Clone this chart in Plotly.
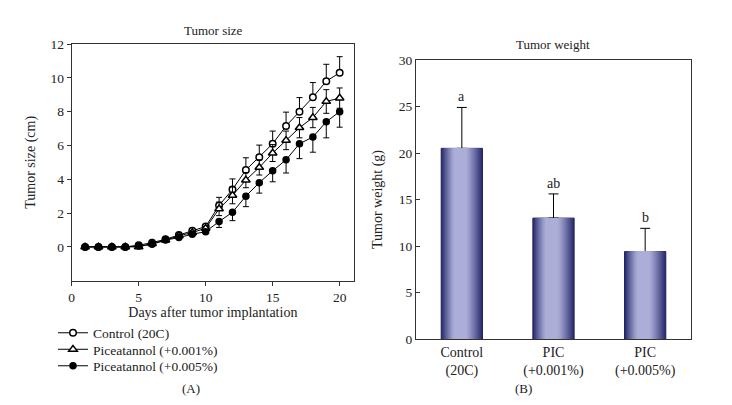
import plotly.graph_objects as go

# ---------------- data ----------------
days = list(range(1, 21))
control = [0, 0, 0, 0, 0.1, 0.25, 0.45, 0.7, 0.95, 1.2, 2.45, 3.4, 4.55, 5.3, 6.1, 7.15, 8.0, 8.85, 9.8, 10.3]
control_err = [0, 0, 0, 0, 0.05, 0.05, 0.08, 0.1, 0.1, 0.12, 0.48, 0.62, 0.72, 0.72, 0.75, 0.82, 0.83, 0.87, 1.0, 0.95]
pic1 = [0, 0, 0, 0, 0, 0.2, 0.4, 0.65, 0.85, 1.1, 2.25, 3.05, 3.95, 4.7, 5.55, 6.3, 7.05, 7.65, 8.6, 8.8]
pic1_err = [0, 0, 0, 0, 0, 0.05, 0.05, 0.08, 0.1, 0.1, 0.4, 0.5, 0.45, 0.45, 0.5, 0.55, 0.6, 0.6, 0.7, 0.6]
pic5 = [0, 0, 0, 0, 0.05, 0.15, 0.4, 0.55, 0.75, 0.9, 1.5, 2.05, 3.0, 3.8, 4.5, 5.15, 6.1, 6.5, 7.4, 8.0]
pic5_err = [0, 0, 0, 0, 0, 0.05, 0.05, 0.08, 0.08, 0.1, 0.35, 0.5, 0.62, 0.62, 0.65, 0.78, 0.88, 0.9, 0.95, 0.92]

series_names = ["Control (20C)", "Piceatannol (+0.001%)", "Piceatannol (+0.005%)"]

weight_cats = ["Control<br>(20C)", "PIC<br>(+0.001%)", "PIC<br>(+0.005%)"]
weight = [20.5, 13.0, 9.4]
weight_err = [4.4, 2.6, 2.5]
weight_letters = ["a", "ab", "b"]

x_ticks = [0, 5, 10, 15, 20]
y_ticks_size = [0, 2, 4, 6, 8, 10, 12]
y_ticks_weight = [0, 5, 10, 15, 20, 25, 30]

# ---------------- figure ----------------
FONT = "Liberation Serif, Times New Roman, serif"
OFF = 8  # default page body margin
W, H = 732 - 2 * OFF, 405 - 2 * OFF
ML, MR, MT, MB = 20, 20, 20, 10
PW, PH = W - ML - MR, H - MT - MB


def px(xp):
    return (xp - OFF - ML) / PW


def py(yp):
    return 1 - (yp - OFF - MT) / PH


fig = go.Figure()


def err_up(arr):
    return dict(type="data", array=arr, arrayminus=[0] * len(arr), symmetric=False,
                color="black", thickness=1, width=3)


def err_down(arr):
    return dict(type="data", array=[0] * len(arr), arrayminus=arr, symmetric=False,
                color="black", thickness=1, width=3)


fig.add_trace(go.Scatter(x=days, y=control, name=series_names[0], mode="lines+markers",
                         line=dict(color="black", width=1),
                         marker=dict(symbol="circle", size=6.5, color="white",
                                     line=dict(color="black", width=1.5)),
                         error_y=err_up(control_err), xaxis="x", yaxis="y", legend="legend"))
fig.add_trace(go.Scatter(x=days, y=pic1, name=series_names[1], mode="lines+markers",
                         line=dict(color="black", width=1),
                         marker=dict(symbol="triangle-up", size=7.5, color="white",
                                     line=dict(color="black", width=1.5)),
                         error_y=dict(type="data", array=pic1_err, color="black", thickness=1, width=3),
                         xaxis="x", yaxis="y", legend="legend2"))
fig.add_trace(go.Scatter(x=days, y=pic5, name=series_names[2], mode="lines+markers",
                         line=dict(color="black", width=1),
                         marker=dict(symbol="circle", size=7.5, color="black"),
                         error_y=err_down(pic5_err), xaxis="x", yaxis="y", legend="legend3"))

# gradient bars via nested overlay bars
dark = (40, 43, 110)
light = (172, 174, 216)
N = 24
BW = 0.45
xs = [0, 1, 2]
for k in range(N):
    frac = k / N
    d = 1 - frac
    s = max(0.0, (d - 0.3) / 0.7) ** 1.2
    c = tuple(int(round(light[i] + (dark[i] - light[i]) * s)) for i in range(3))
    width = BW * d
    shift = -0.06 * BW * frac
    fig.add_trace(go.Bar(
        x=xs, y=weight, width=[width] * 3, offset=[shift - width / 2] * 3,
        marker=dict(color="rgb(%d,%d,%d)" % c,
                    line=dict(color="#1e205a" if k == 0 else "rgba(0,0,0,0)", width=1 if k == 0 else 0)),
        error_y=dict(type="data", array=weight_err, arrayminus=[0, 0, 0], symmetric=False,
                     color="black", thickness=1, width=5, visible=(k == 0)),
        showlegend=False, xaxis="x2", yaxis="y2", hoverinfo="skip"))

for xi, yv, ev, lab in zip(xs, weight, weight_err, weight_letters):
    fig.add_annotation(x=xi, y=yv + ev, text=lab, xref="x2", yref="y2", showarrow=False,
                       yanchor="bottom", yshift=1, font=dict(size=14, family=FONT, color="#222"))

axis_common = dict(showline=True, linecolor="#333", linewidth=1, mirror=True, showgrid=False,
                   zeroline=False, tickfont=dict(size=13.5, family=FONT, color="#222"),
                   tickcolor="#333", ticklen=4, automargin=False)

leg_common = dict(xanchor="left", yanchor="middle", font=dict(size=13.5, family=FONT, color="#222"),
                  bgcolor="rgba(0,0,0,0)", itemwidth=30)

fig.update_layout(
    width=W, height=H, margin=dict(l=ML, r=MR, t=MT, b=MB, autoexpand=False),
    paper_bgcolor="white", plot_bgcolor="white",
    font=dict(family=FONT, color="#222"),
    barmode="overlay",
    xaxis=dict(domain=[px(71.7), px(354)], range=[0, 21.07], tickvals=x_ticks, ticks="outside",
               title=dict(text="Days after tumor implantation", font=dict(size=14, family=FONT), standoff=1),
               anchor="y", **axis_common),
    yaxis=dict(domain=[py(280.7), py(44)], range=[-2, 12], tickvals=y_ticks_size, ticks="outside",
               title=dict(text="Tumor size (cm)", font=dict(size=14, family=FONT), standoff=11),
               anchor="x", **axis_common),
    xaxis2=dict(domain=[px(416), px(691)], range=[-0.5, 2.5], tickvals=xs, ticktext=weight_cats,
                ticks="", anchor="y2", **{**axis_common, "tickfont": dict(size=14, family=FONT, color="#222")}),
    yaxis2=dict(domain=[py(339), py(60)], range=[0, 30], tickvals=y_ticks_weight, ticks="inside",
                title=dict(text="Tumor weight (g)", font=dict(size=14, family=FONT), standoff=12),
                anchor="x2", **axis_common),
    legend=dict(x=px(53), y=py(333), **leg_common),
    legend2=dict(x=px(53), y=py(349.5), **leg_common),
    legend3=dict(x=px(53), y=py(366), **leg_common),
    showlegend=True,
)

ann_font = dict(size=13, family=FONT, color="#222")
fig.add_annotation(x=px(213), y=py(31), xref="paper", yref="paper", text="Tumor size",
                   showarrow=False, yanchor="middle", xanchor="center", font=ann_font)
fig.add_annotation(x=px(553), y=py(45), xref="paper", yref="paper", text="Tumor weight",
                   showarrow=False, yanchor="middle", xanchor="center", font=ann_font)
fig.add_annotation(x=px(191), y=py(388), xref="paper", yref="paper", text="(A)",
                   showarrow=False, yanchor="middle", xanchor="center", font=ann_font)
fig.add_annotation(x=px(523), y=py(389), xref="paper", yref="paper", text="(B)",
                   showarrow=False, yanchor="middle", xanchor="center", font=ann_font)

fig.write_html("out.html")
